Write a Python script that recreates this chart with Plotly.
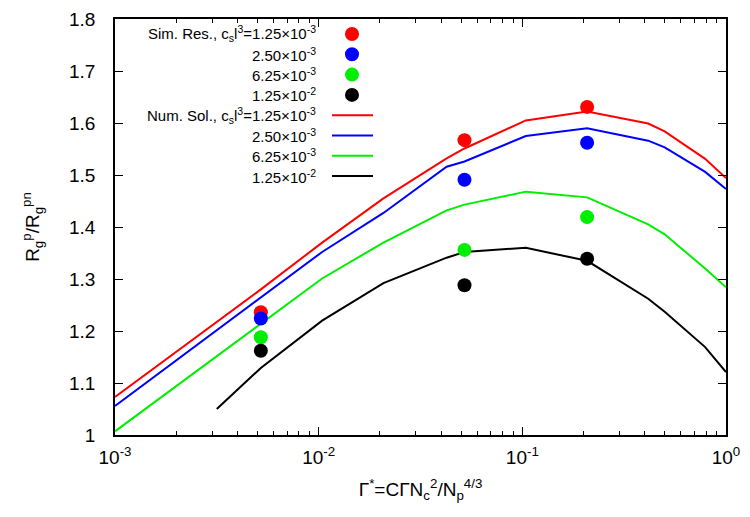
import plotly.graph_objects as go

# ---- data ----
sim_x = [0.0052, 0.052, 0.208]
sim_red = [1.236, 1.567, 1.631]
sim_blue = [1.224, 1.491, 1.562]
sim_green = [1.188, 1.356, 1.419]
sim_black = [1.162, 1.288, 1.339]

num_x = [0.001, 0.0052, 0.0104, 0.0208, 0.0425, 0.052, 0.104, 0.208, 0.415, 0.5, 0.79, 1.0]
num_red = [1.073, 1.280, 1.370, 1.455, 1.532, 1.551, 1.605, 1.622, 1.599, 1.584, 1.531, 1.494]
num_blue = [1.056, 1.265, 1.352, 1.427, 1.516, 1.526, 1.575, 1.590, 1.566, 1.553, 1.506, 1.473]
num_green = [1.007, 1.215, 1.301, 1.370, 1.432, 1.443, 1.468, 1.457, 1.405, 1.386, 1.320, 1.284]
num_black_x = [0.00316, 0.0052, 0.0104, 0.0208, 0.0425, 0.052, 0.104, 0.208, 0.415, 0.5, 0.79, 1.0]
num_black = [1.050, 1.129, 1.220, 1.292, 1.341, 1.352, 1.360, 1.335, 1.262, 1.237, 1.169, 1.121]

x_tickvals = [0.001, 0.01, 0.1, 1]
x_ticktext = ["10<sup>-3</sup>", "10<sup>-2</sup>", "10<sup>-1</sup>", "10<sup>0</sup>"]

sim_labels = ["Sim. Res., c<sub>s</sub>l<sup>3</sup>=1.25×10<sup>-3</sup>",
              "2.50×10<sup>-3</sup>", "6.25×10<sup>-3</sup>", "1.25×10<sup>-2</sup>"]
num_labels = ["Num. Sol., c<sub>s</sub>l<sup>3</sup>=1.25×10<sup>-3</sup>",
              "2.50×10<sup>-3</sup>", "6.25×10<sup>-3</sup>", "1.25×10<sup>-2</sup>"]
colors = ["#ff0000", "#0000ff", "#00ee00", "#000000"]

FONT = "Liberation Sans, Arial, Helvetica, sans-serif"

# page has an 8px body margin: figure is shifted by (8, 8)
OFF = 8
FIG_W, FIG_H = 750 - OFF, 517 - OFF
# plot area in page pixels
L, R, T, B = 115, 726, 19, 435
W, H = R - L, B - T

fig = go.Figure()
num_series = [(num_x, num_red), (num_x, num_blue), (num_x, num_green), (num_black_x, num_black)]
for (xs, ys), c, lab in zip(num_series, colors, num_labels):
    fig.add_trace(go.Scatter(x=xs, y=ys, mode="lines", line=dict(color=c, width=2),
                             name=lab, showlegend=False))
for ys, c, lab in zip([sim_red, sim_blue, sim_green, sim_black], colors, sim_labels):
    fig.add_trace(go.Scatter(x=sim_x, y=ys, mode="markers",
                             marker=dict(color=c, size=14, line=dict(width=0)),
                             name=lab, showlegend=False))

# ---- manual gnuplot-style key (text right-aligned, sample on the right) ----
def px(xp):
    return (xp - L) / W
def py(yp):
    return (B - yp) / H

row0, drow = 34, 20.3
text_right = 318
dot_x = 352
line_x0, line_x1 = 332, 373
labels = sim_labels + num_labels
for i, lab in enumerate(labels):
    yrow = row0 + i * drow
    fig.add_annotation(x=px(text_right), y=py(yrow), xref="paper", yref="paper",
                       text=lab, showarrow=False, xanchor="right", yanchor="middle",
                       font=dict(family=FONT, size=15, color="black"))
    c = colors[i % 4]
    if i < 4:
        fig.add_shape(type="circle", xref="paper", yref="paper",
                      xsizemode="pixel", ysizemode="pixel",
                      xanchor=px(dot_x), yanchor=py(yrow),
                      x0=-7, x1=7, y0=-7, y1=7,
                      fillcolor=c, line=dict(width=0))
    else:
        fig.add_shape(type="line", xref="paper", yref="paper",
                      x0=px(line_x0), x1=px(line_x1), y0=py(yrow), y1=py(yrow),
                      line=dict(color=c, width=2))

axis_common = dict(showline=True, linecolor="black", linewidth=1.5, mirror="allticks",
                   ticks="inside", tickcolor="black", tickwidth=1.2, ticklen=8,
                   showgrid=False, zeroline=False, automargin=False,
                   ticklabeloverflow="allow",
                   tickfont=dict(family=FONT, size=19, color="black"))

fig.update_xaxes(type="log", range=[-3, 0], tickvals=x_tickvals, ticktext=x_ticktext,
                 minor=dict(ticks="inside", ticklen=4, tickcolor="black", tickwidth=1, dtick="D1",
                            showgrid=False),
                 title=dict(text="Γ<sup>*</sup>=CΓN<sub>c</sub><sup>2</sup>/N<sub>p</sub><sup>4/3</sup>",
                            font=dict(family=FONT, size=19, color="black"), standoff=16),
                 ticklabelstandoff=4,
                 **axis_common)
fig.update_yaxes(range=[1, 1.8], dtick=0.1, tick0=1,
                 title=dict(text="R<sub>g</sub><sup>p</sup>/R<sub>g</sub><sup>pn</sup>",
                            font=dict(family=FONT, size=19, color="black"), standoff=24),
                 ticklabelstandoff=14,
                 **axis_common)

fig.update_layout(width=FIG_W, height=FIG_H,
                  margin=dict(l=L - OFF, r=FIG_W - (R - OFF), t=T - OFF, b=FIG_H - (B - OFF)),
                  paper_bgcolor="white", plot_bgcolor="white", showlegend=False,
                  font=dict(family=FONT, color="black"))

fig.write_html("out.html")
